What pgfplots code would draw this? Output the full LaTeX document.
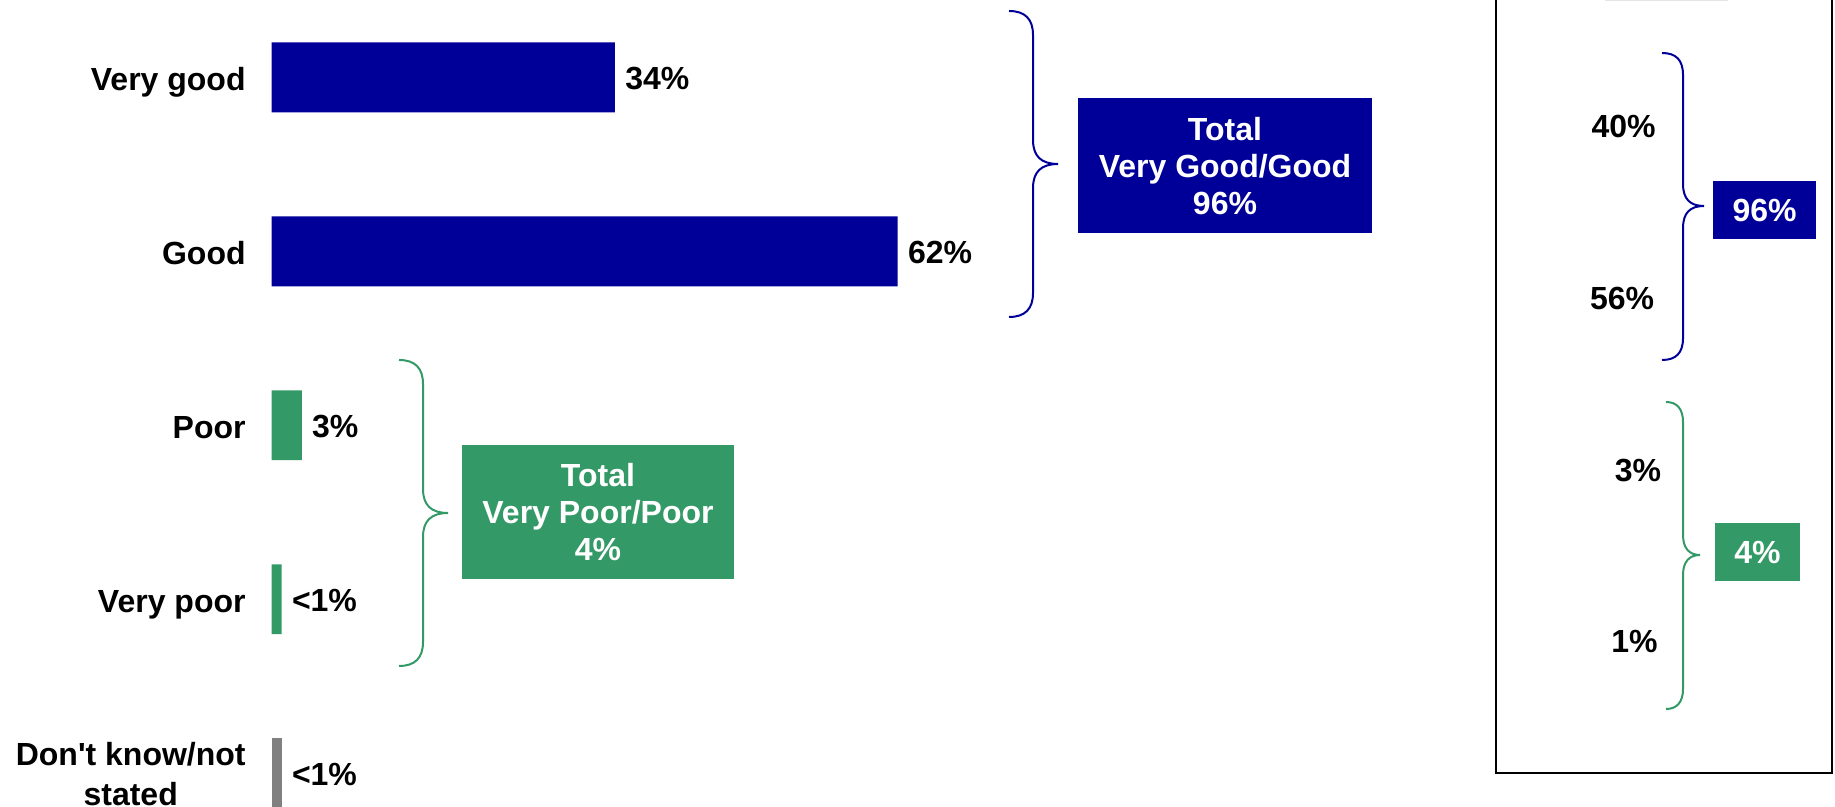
\documentclass[border=0pt]{standalone}
\usepackage{pgfplots}
\pgfplotsset{compat=1.18}
\usepackage{fontspec}
\setmainfont{Liberation Sans}
\newfontfamily\plainfont{Liberation Sans}
\definecolor{cblue}{HTML}{000099}
\definecolor{cgreen}{HTML}{339966}
\definecolor{cgray}{HTML}{808080}
\newcommand\lab{\bfseries\fontsize{16pt}{20pt}\selectfont}
\newcommand\boxlab{\bfseries\fontsize{16pt}{18.3pt}\selectfont}
\begin{document}
\begin{tikzpicture}
\useasboundingbox (0,0) rectangle (917.5pt,403.5pt);
\begin{axis}[
  at={(135.75pt,0pt)}, anchor=south west,
  scale only axis, width=781.75pt, height=403.5pt,
  xmin=0, xmax=154.8, ymin=-0.4443, ymax=4.194, y dir=reverse,
  enlargelimits=false,
  xbar, bar width=0.402,
  axis line style={draw=none}, major tick length=0pt,
  xtick=\empty, ytick={0,1,2,3,4},
  yticklabels={Very good, Good, Poor, Very poor, {\begin{tabular}[c]{@{}c@{}}Don{\plainfont\bfseries'}t know/not\\stated\end{tabular}}},
  y tick label style={font=\lab, anchor=east, inner sep=0pt, xshift=-12.75pt, yshift=-0.8pt, text height=11.46pt, text depth=0pt},
  point meta=explicit symbolic,
  nodes near coords={\pgfplotspointmeta},
  nodes near coords style={font=\lab, text=black, anchor=west, inner sep=0pt, xshift=5pt, yshift=-0.6pt, text height=11.46pt, text depth=0pt},
  clip=false,
]
\addplot[fill=cblue, draw=none, bar shift=0pt] coordinates {(34,0) [34\%] (62,1) [62\%]};
\addplot[fill=cgreen, draw=none, bar shift=0pt] coordinates {(3,2) [3\%] (1,3) [<1\%]};
\addplot[fill=cgray, draw=none, bar shift=0pt] coordinates {(1,4) [<1\%]};
\end{axis}
\begin{scope}[x=0.5pt,y=-0.5pt,shift={(0pt,403.5pt)}]
% left braces
\draw[cblue, line width=1pt] (1009,11) .. controls (1025,11) and (1033,19) .. (1033,35) -- (1033,140) .. controls (1033,156) and (1041,164) .. (1058,164) .. controls (1041,164) and (1033,172) .. (1033,188) -- (1033,293) .. controls (1033,309) and (1025,317) .. (1009,317);
\draw[cgreen, line width=1pt] (399,360) .. controls (415,360) and (423,368) .. (423,384) -- (423,489) .. controls (423,505) and (431,513) .. (448,513) .. controls (431,513) and (423,521) .. (423,537) -- (423,642) .. controls (423,658) and (415,666) .. (399,666);
% left boxes
\fill[cblue] (1078,98) rectangle (1372,233);
\node[text=white, font=\boxlab, align=center] at (1225,166) {Total\\Very Good/Good\\96\%};
\fill[cgreen] (462,445) rectangle (734,579);
\node[text=white, font=\boxlab, align=center] at (598,512) {Total\\Very Poor/Poor\\4\%};
% right panel
\fill[gray!20] (1605,-5) rectangle (1728,1.5);
\draw[line width=1pt] (1496,-20) rectangle (1832,773);
\draw[cblue, line width=1pt] (1662,53) .. controls (1676,53) and (1683,60) .. (1683,75) -- (1683,184) .. controls (1683,199) and (1690,206) .. (1704,206) .. controls (1690,206) and (1683,213) .. (1683,228) -- (1683,338) .. controls (1683,353) and (1676,360) .. (1662,360);
\draw[cgreen, line width=1pt] (1666,402) .. controls (1677,402) and (1683,409) .. (1683,422) -- (1683,535) .. controls (1683,548) and (1689,555) .. (1700,555) .. controls (1689,555) and (1683,562) .. (1683,575) -- (1683,689) .. controls (1683,702) and (1677,709) .. (1666,709);
\fill[cblue] (1713,181) rectangle (1816,239);
\node[text=white, font=\lab, text height=11.46pt, text depth=0pt] at (1764.5,210) {96\%};
\fill[cgreen] (1715,523) rectangle (1800,581);
\node[text=white, font=\lab, text height=11.46pt, text depth=0pt] at (1757.5,552) {4\%};
\node[font=\lab, text height=11.46pt, text depth=0pt] at (1623.5,126) {40\%};
\node[font=\lab, text height=11.46pt, text depth=0pt] at (1622,298) {56\%};
\node[font=\lab, text height=11.46pt, text depth=0pt] at (1638,470) {3\%};
\node[font=\lab, text height=11.46pt, text depth=0pt] at (1634.5,641) {1\%};
\end{scope}
\end{tikzpicture}
\end{document}
